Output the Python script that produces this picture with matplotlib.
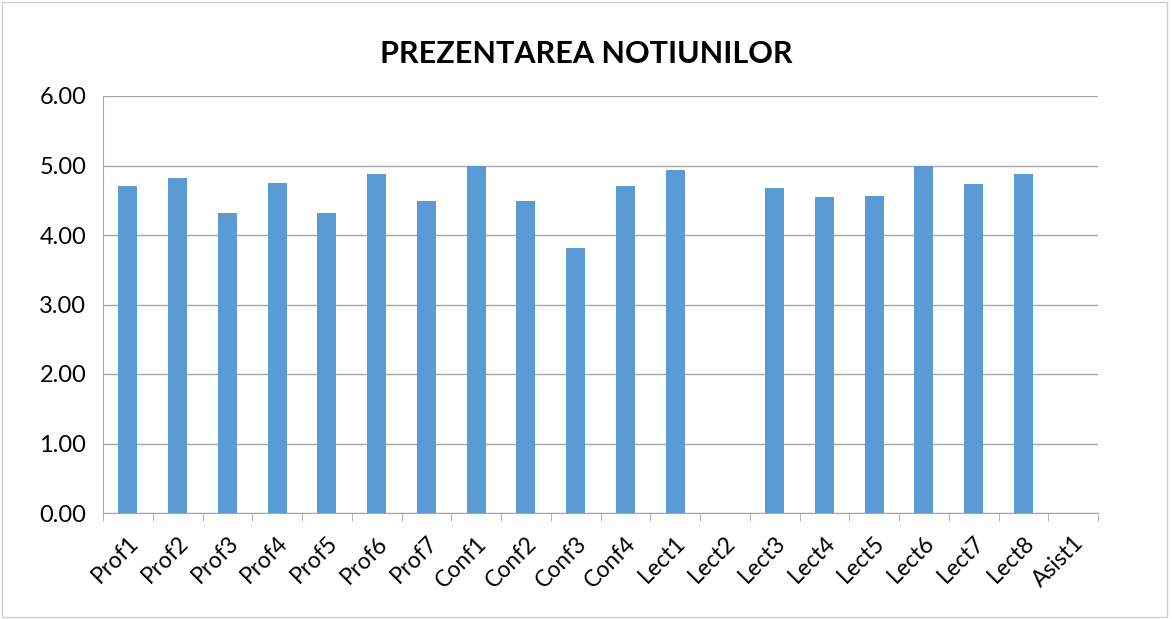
import numpy as np
import matplotlib.pyplot as plt

plt.rcParams['font.family'] = ['Lato', 'DejaVu Sans']

labels = ["Prof1", "Prof2", "Prof3", "Prof4", "Prof5", "Prof6", "Prof7",
          "Conf1", "Conf2", "Conf3", "Conf4",
          "Lect1", "Lect2", "Lect3", "Lect4", "Lect5", "Lect6", "Lect7", "Lect8",
          "Asist1"]
values = [4.71, 4.82, 4.32, 4.75, 4.32, 4.88, 4.49,
          5.00, 4.49, 3.81, 4.71,
          4.93, 0.0, 4.67, 4.55, 4.56, 5.00, 4.73, 4.88,
          0.0]

fig = plt.figure(figsize=(11.72, 6.19), dpi=100)
ax = fig.add_axes([103/1172, 1 - 513/619, (1098-103)/1172, (513-96)/619])

# border around the chart
fig.patches.append(plt.Rectangle((0.002, 0.003), 0.994, 0.994, transform=fig.transFigure,
                                 fill=False, edgecolor='#d0d0d0', linewidth=1))

x = np.arange(len(labels))
ax.bar(x, values, width=0.38, color='#5B9BD5', zorder=3)

ax.set_xlim(-0.5, len(labels) - 0.5)
ax.set_ylim(0, 6)
ax.set_yticks(np.arange(0, 7, 1))
ax.set_yticklabels([f"{v:.2f}" for v in np.arange(0, 7, 1)], fontsize=17)
ax.grid(axis='y', color='#a6a6a6', linewidth=1, zorder=0)

ax.set_xticks(x)
ax.set_xticklabels(labels, rotation=45, ha='right', rotation_mode='anchor', fontsize=16.5)
ax.set_xticks(np.arange(-0.5, len(labels), 1), minor=True)
ax.tick_params(axis='x', which='major', length=0, pad=14)
ax.tick_params(axis='x', which='minor', length=6, color='#a6a6a6')
ax.tick_params(axis='y', length=0, pad=12)

for s in ['top', 'right']:
    ax.spines[s].set_visible(False)
ax.spines['left'].set_color('#a6a6a6')
ax.spines['bottom'].set_color('#a6a6a6')

fig.text(0.5, 1 - 54/619, "PREZENTAREA NOTIUNILOR", ha='center', va='center',
         fontsize=22, fontweight='bold')

fig.savefig('out.png', dpi=100)
